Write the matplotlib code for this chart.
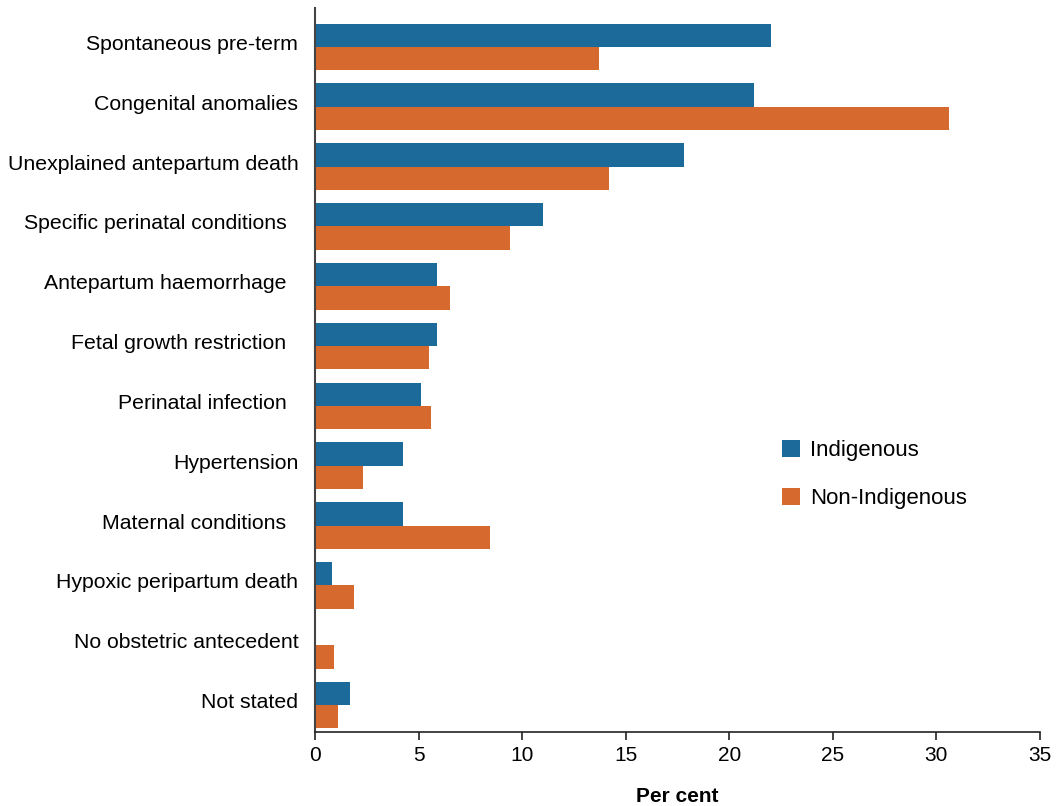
import matplotlib
matplotlib.use("Agg")
import matplotlib.pyplot as plt
import matplotlib.transforms as mtransforms
import numpy as np

plt.rcParams['font.family'] = ['Liberation Sans', 'DejaVu Sans']

categories = [
    "Spontaneous pre-term",
    "Congenital anomalies",
    "Unexplained antepartum death",
    "Specific perinatal conditions  ",
    "Antepartum haemorrhage  ",
    "Fetal growth restriction  ",
    "Perinatal infection  ",
    "Hypertension",
    "Maternal conditions  ",
    "Hypoxic peripartum death",
    "No obstetric antecedent",
    "Not stated",
]
indigenous = [22.0, 21.2, 17.8, 11.0, 5.9, 5.9, 5.1, 4.25, 4.25, 0.8, 0.0, 1.7]
non_indigenous = [13.7, 30.6, 14.2, 9.4, 6.5, 5.5, 5.6, 2.3, 8.45, 1.9, 0.9, 1.1]
xticks = [0, 5, 10, 15, 20, 25, 30, 35]

blue = "#1c6a9a"
orange = "#d6692e"

fig = plt.figure(figsize=(10.59, 8.06), dpi=100)
ax = fig.add_axes([315/1059, 74/806, 725/1059, 724/806])

y = np.arange(len(categories))
h = 0.39
ax.barh(y - h/2, indigenous, height=h, color=blue, label="Indigenous")
ax.barh(y + h/2, non_indigenous, height=h, color=orange, label="Non-Indigenous")

ax.set_ylim(11.45, -0.65)
ax.set_xlim(0, 35)
ax.set_xticks(xticks)
ax.set_xticklabels([str(t) for t in xticks], fontsize=15)
ax.set_yticks(y)
ax.set_yticklabels(categories, fontsize=15.3)
ax.tick_params(axis='y', length=0, pad=12)
ax.tick_params(axis='x', length=6, width=1.2, color='#222222', pad=4)
offset = mtransforms.ScaledTranslation(0, 0.045, fig.dpi_scale_trans)
for lab in ax.get_yticklabels():
    lab.set_transform(lab.get_transform() + offset)
for s in ['top', 'right']:
    ax.spines[s].set_visible(False)
ax.spines['left'].set_color('#444444')
ax.spines['left'].set_linewidth(1.5)
ax.spines['bottom'].set_color('#222222')
ax.spines['bottom'].set_linewidth(1.2)
ax.set_xlabel("Per cent", fontsize=15, fontweight='bold', labelpad=16)

leg = ax.legend(loc='upper left', bbox_to_anchor=(762/1059, 1 - 420/806),
                bbox_transform=fig.transFigure, frameon=False, fontsize=16,
                handlelength=0.8, handleheight=0.8, handletextpad=0.45,
                labelspacing=1.2)

fig.savefig("out.png", dpi=100)
